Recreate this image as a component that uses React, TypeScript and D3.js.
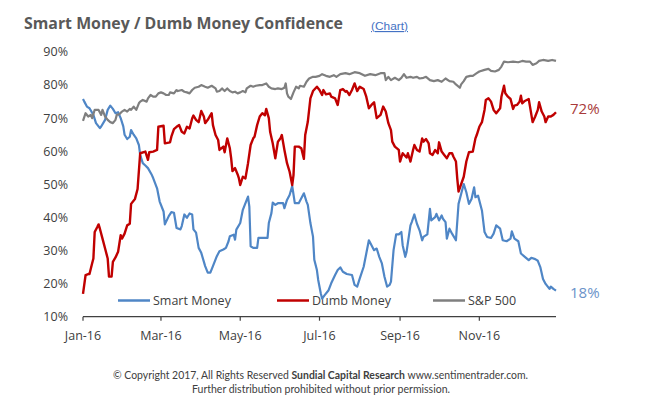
import * as d3 from "d3";

// [day of 2016, value in %]
const smartMoney: [number, number][] = [
  [0, 75.8], [1, 75], [3, 73.5], [5, 73], [8, 71], [10, 68.5], [13, 67], [14, 67.5], [17, 69.5], [19, 72.5],
  [21, 73.8], [23, 72.8], [25, 71.5], [27, 71.8], [29, 70], [31, 67.5], [32, 65], [34, 63.7], [36, 64.4], [37, 66.4],
  [39, 65], [41, 63.9], [43, 61.9], [44, 58.9], [46, 56.4], [48, 55.7], [50, 54.9], [53, 52.8], [54, 51.9], [57, 48.8],
  [59, 44.8], [62, 41.8], [63, 37.9], [66, 40.4], [68, 41.6], [70, 41.4], [72, 36.8], [75, 36.4], [76, 37.4], [78, 40.9],
  [80, 39.9], [82, 41.2], [84, 40.9], [85, 36.4], [87, 35.4], [89, 30.8], [91, 29.3], [94, 25.3], [96, 23.3], [98, 23.3],
  [100, 25.3], [103, 28.3], [105, 29.8], [108, 30.3], [110, 30.8], [112, 32.8], [113, 34.3], [116, 34.8], [117, 33.3], [118, 36.3],
  [121, 38.3], [123, 42.3], [126, 45.3], [127, 46.3], [128, 43.3], [129, 31.3], [131, 30.8], [134, 30.8], [135, 33.8], [139, 33.8],
  [142, 33.8], [143, 38.3], [145, 41.3], [146, 44.5], [148, 43.8], [150, 44.3], [154, 44.3], [155, 42.8], [157, 45.3], [159, 46.8],
  [161, 49.5], [163, 44.3], [166, 44.3], [168, 45.8], [170, 47.3], [172, 44.8], [173, 43.8], [175, 38.3], [177, 34.2], [178, 27.2],
  [180, 24.1], [181, 21.1], [183, 17], [184, 15.5], [186, 16.5], [189, 18], [191, 20.1], [194, 22.6], [196, 24.1], [198, 24.9],
  [200, 23.6], [203, 22.9], [207, 22.6], [209, 19.6], [211, 19.1], [213, 21.6], [216, 25.1], [218, 29.1], [220, 33.1], [222, 31.6],
  [224, 30.1], [226, 30.6], [228, 28.1], [230, 26.1], [232, 22.1], [234, 19.1], [236, 19.6], [237, 20.6], [239, 30.1], [241, 34.9],
  [243, 34.9], [245, 35.6], [246, 31.6], [248, 28.1], [249, 29.6], [252, 37.6], [253, 38.6], [255, 40.9], [257, 38.1], [259, 36.1],
  [261, 33.1], [262, 34.1], [265, 34.9], [267, 42.6], [268, 39.1], [271, 40.1], [272, 41.1], [274, 39.1], [276, 40.6], [277, 39.6],
  [279, 38.6], [280, 33.6], [282, 36.6], [284, 35.1], [287, 33.1], [289, 44.1], [291, 47.1], [293, 50.1], [295, 47.6], [297, 44.1],
  [299, 45.6], [301, 49.1], [302, 46.1], [304, 46.6], [307, 42.1], [309, 35.6], [311, 34.1], [314, 33.8], [316, 35.1], [318, 37.6],
  [321, 36.6], [323, 33.1], [326, 32.8], [329, 33.6], [330, 35.8], [332, 33.6], [335, 32.8], [337, 29.1], [340, 28.1], [343, 27.1],
  [345, 27.8], [348, 27.4], [350, 26.9], [352, 24.9], [354, 21.4], [356, 19.9], [359, 18.4], [360, 19.1], [362, 18.4], [364, 17.9],
];

const dumbMoney: [number, number][] = [
  [0, 16.9], [2, 22.6], [4, 22.9], [5, 22.9], [7, 26.1], [8, 27.6], [9, 35.6], [11, 37.1], [12, 37.9], [13, 36.6],
  [15, 33.6], [17, 30.6], [19, 27.6], [20, 22.1], [22, 22.1], [23, 26.6], [25, 27.9], [27, 29.6], [29, 34.6], [30, 33.6],
  [32, 35.1], [34, 37.6], [36, 38.1], [37, 44.1], [40, 45.6], [42, 48.6], [44, 59.4], [48, 59.9], [50, 57.4], [51, 59.7],
  [54, 59.9], [57, 60.4], [58, 67.4], [62, 67.7], [63, 62.4], [67, 62.7], [68, 64.4], [70, 66.7], [72, 67.4], [74, 67.9],
  [76, 65.9], [78, 65.4], [80, 67.4], [82, 66.9], [84, 69.9], [85, 70.8], [87, 69.5], [89, 68.8], [91, 72.2], [93, 70.5],
  [94, 68.5], [96, 69.5], [99, 71.5], [100, 67.9], [102, 64.9], [104, 63.4], [105, 60.4], [108, 61.4], [109, 59.7], [111, 63.9],
  [113, 60.9], [114, 57.9], [115, 54], [117, 54.9], [119, 53], [120, 51.8], [121, 49.8], [123, 52.3], [125, 51.8], [127, 56.4],
  [129, 61.9], [131, 63.9], [132, 64.4], [134, 67.9], [136, 70.5], [138, 71.5], [140, 70.9], [141, 72.8], [143, 70], [144, 65.9],
  [146, 62.4], [148, 57.9], [150, 62.9], [152, 63.9], [153, 64.9], [155, 60.4], [157, 56.4], [159, 53.8], [161, 49.8], [162, 52.8],
  [163, 61.4], [166, 61.4], [168, 60.9], [170, 57.7], [171, 64.9], [173, 68.9], [175, 76], [177, 78.2], [180, 79.5], [182, 78.5],
  [184, 77], [185, 78.5], [187, 77.2], [190, 77.5], [191, 76.5], [194, 76], [196, 74], [198, 78.5], [200, 78.8], [202, 78],
  [203, 78.2], [205, 77], [207, 78.5], [209, 80.5], [211, 78.2], [213, 79.5], [216, 78.8], [218, 76.5], [220, 73], [222, 74],
  [224, 74.8], [226, 70], [229, 71], [231, 73.5], [233, 72], [235, 68.5], [237, 66.4], [238, 62.9], [240, 61.4], [243, 60.4],
  [244, 56.9], [246, 59.4], [249, 58.1], [250, 59.4], [252, 56.9], [254, 60.4], [255, 61.9], [257, 60.4], [259, 59.9], [261, 63.9],
  [262, 62.9], [264, 63.7], [266, 62.4], [267, 59.4], [269, 58.9], [271, 60.4], [273, 59.4], [274, 62.7], [276, 59.9], [278, 58.9],
  [280, 57.9], [282, 59.4], [284, 59.4], [285, 58.4], [287, 56.9], [288, 51.8], [289, 47.8], [293, 52.3], [295, 56.9], [297, 59.7],
  [300, 59.9], [302, 63.9], [303, 64.9], [305, 67.4], [307, 68.8], [309, 72.5], [310, 75.5], [312, 76], [314, 75], [316, 72.5],
  [318, 71.5], [321, 73], [322, 76.5], [324, 79.8], [325, 77.5], [327, 76.5], [329, 75.8], [331, 72.8], [332, 73.8], [334, 74],
  [336, 75], [337, 76.8], [338, 74.5], [340, 75.2], [343, 75.8], [344, 73.5], [346, 68.8], [348, 70.5], [350, 72.5], [351, 74.8],
  [353, 72], [355, 70.5], [356, 68.8], [358, 70.5], [360, 70.5], [362, 71], [364, 71.8],
];

const sp500: [number, number][] = [
  [0, 69.2], [2, 71.5], [4, 70.5], [6, 71], [7, 70], [9, 72.5], [12, 72.5], [14, 71], [15, 72.5], [17, 70.5],
  [19, 69.5], [21, 68.8], [23, 68.5], [25, 69.5], [26, 71], [28, 71.2], [30, 72], [32, 72.5], [34, 72], [36, 72.8],
  [37, 72.5], [39, 73.5], [41, 72.5], [43, 74.5], [44, 75], [46, 75.5], [49, 75], [50, 76], [52, 77], [54, 76.5],
  [56, 76.5], [58, 77.5], [60, 77.8], [62, 77.5], [64, 77], [66, 77], [67, 77.8], [70, 77.5], [72, 78.5], [73, 78.2],
  [76, 78.5], [78, 78], [80, 77.8], [82, 77.5], [84, 78.5], [86, 79.2], [89, 79.5], [91, 80], [94, 79.5], [96, 79.2],
  [99, 79.8], [102, 79], [103, 78], [105, 78.2], [107, 79], [109, 78.2], [111, 79], [113, 78.2], [115, 77.8], [117, 78],
  [119, 77.5], [121, 77.8], [123, 78.2], [125, 77.8], [126, 79], [129, 79.8], [131, 79.5], [133, 79.8], [136, 80], [138, 80],
  [141, 80.5], [143, 79.5], [145, 79], [148, 78.8], [150, 79], [153, 78.8], [155, 79.2], [156, 80.5], [157, 77.5], [158, 76.5],
  [160, 75.8], [162, 77.8], [164, 79.5], [166, 79], [167, 79.8], [170, 79.5], [172, 81], [174, 82], [177, 82.5], [179, 82.5],
  [182, 82.8], [184, 83.3], [187, 82.8], [190, 82.5], [193, 83], [195, 82.5], [198, 83.3], [202, 83.6], [205, 83.3], [209, 83.9],
  [213, 83.6], [217, 82.8], [221, 83.3], [225, 83], [229, 83.6], [232, 83.6], [233, 81.5], [235, 82.5], [237, 81.5], [240, 82.2],
  [243, 81.5], [245, 82.2], [247, 83.3], [249, 82.2], [252, 82.5], [254, 82.2], [257, 82.5], [259, 82], [262, 82.2], [264, 82.5],
  [267, 81.5], [270, 81.2], [273, 81.5], [276, 81], [279, 82], [282, 81.2], [285, 81], [287, 80.2], [290, 79.2], [291, 80.2],
  [293, 81.2], [295, 82.5], [298, 82.8], [300, 82.8], [303, 83.6], [305, 84.1], [309, 84.6], [312, 84.9], [314, 84.3], [317, 84.1],
  [320, 84.6], [322, 85.6], [324, 87.1], [327, 86.9], [331, 87.1], [335, 86.9], [338, 87.3], [341, 87.1], [344, 87.1], [346, 86.1],
  [349, 86.6], [351, 87.3], [354, 87.6], [358, 87.3], [361, 87.6], [364, 87.3],
];

const yTicks = [10, 20, 30, 40, 50, 60, 70, 80, 90];
const legendItems = ["Smart Money", "Dumb Money", "S&P 500"];
const lastLabels = ["72%", "18%"];

const W = 650;
const H = 402;
const start = new Date(2016, 0, 1);
const toDate = (d: number) => d3.timeDay.offset(start, d);

const x = d3.scaleTime().domain([start, new Date(2016, 11, 30)]).range([83, 556]);
const y = d3.scaleLinear().domain([10, 90]).range([316.7, 52]);

const line = d3
  .line<[number, number]>()
  .x((d) => x(toDate(d[0])))
  .y((d) => y(d[1]));

const blue = "#4F86C6";
const red = "#C00000";
const gray = "#7F7F7F";
const font = "'Open Sans', sans-serif";
const xTicks = d3.timeMonth.every(2)!.range(start, new Date(2016, 11, 31));
const fmt = d3.timeFormat("%b-%y");

export default function App() {
  const legendPos = [
    { x1: 118, color: blue },
    { x1: 277, color: red },
    { x1: 433, color: gray },
  ];
  return (
    <div style={{ position: "fixed", left: 0, top: 0, width: W, height: H, background: "#fff" }}>
      <svg width={W} height={H} style={{ display: "block", fontFamily: font }}>
        <text
          x={24}
          y={29}
          fontSize={15.5}
          fontWeight={700}
          fill="#595959"
          textLength={319}
          lengthAdjust="spacingAndGlyphs"
        >
          Smart Money / Dumb Money Confidence
        </text>
        <text
          x={371}
          y={30}
          fontSize={11.5}
          fill="#4472C4"
          textDecoration="underline"
          fontFamily="'Liberation Sans', Arial, sans-serif"
          textLength={37}
          lengthAdjust="spacingAndGlyphs"
        >
          (Chart)
        </text>

        {yTicks.map((t) => (
          <text key={t} x={68} y={y(t)} dy="0.35em" textAnchor="end" fontSize={12.5} fill="#404040">
            {t}%
          </text>
        ))}

        <line x1={83} x2={556} y1={y(10)} y2={y(10)} stroke="#404040" strokeWidth={1.2} />
        {xTicks.map((t) => (
          <g key={+t}>
            <line x1={x(t)} x2={x(t)} y1={y(10)} y2={y(10) + 4} stroke="#404040" strokeWidth={1.2} />
            <text x={x(t)} y={340} textAnchor="middle" fontSize={12.5} fill="#404040">
              {fmt(t)}
            </text>
          </g>
        ))}

        {legendItems.map((name, i) => (
          <g key={name}>
            <line
              x1={legendPos[i].x1}
              x2={legendPos[i].x1 + 32}
              y1={300.5}
              y2={300.5}
              stroke={legendPos[i].color}
              strokeWidth={2.5}
            />
            <text x={legendPos[i].x1 + 35} y={305} fontSize={12.5} fill="#404040">
              {name}
            </text>
          </g>
        ))}

        <path d={line(smartMoney) ?? ""} fill="none" stroke={blue} strokeWidth={2.2} strokeLinejoin="round" />
        <path d={line(dumbMoney) ?? ""} fill="none" stroke={red} strokeWidth={2.4} strokeLinejoin="round" />
        <path d={line(sp500) ?? ""} fill="none" stroke={gray} strokeWidth={2.2} strokeLinejoin="round" />

        <text x={570} y={y(dumbMoney[dumbMoney.length - 1][1]) - 3} dy="0.35em" fontSize={15} fill="#A83A3A">
          {lastLabels[0]}
        </text>
        <text x={570} y={y(smartMoney[smartMoney.length - 1][1]) + 2} dy="0.35em" fontSize={15} fill="#6B93C9">
          {lastLabels[1]}
        </text>

        <text
          x={113}
          y={378.5}
          fontSize={10.5}
          fill="#404040"
          fontFamily="Lato, sans-serif"
          textLength={415}
          lengthAdjust="spacingAndGlyphs"
        >
          © Copyright 2017, All Rights Reserved <tspan fontWeight={700}>Sundial Capital Research</tspan>{" "}
          www.sentimentrader.com.
        </text>
        <text
          x={192}
          y={392.5}
          fontSize={10.5}
          fill="#404040"
          fontFamily="Lato, sans-serif"
          textLength={258}
          lengthAdjust="spacingAndGlyphs"
        >
          Further distribution prohibited without prior permission.
        </text>
      </svg>
    </div>
  );
}
